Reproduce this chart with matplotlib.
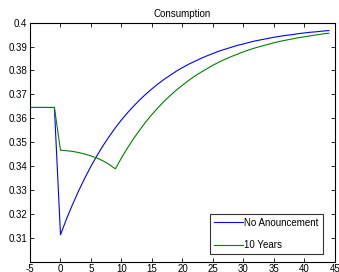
import matplotlib
matplotlib.use("Agg")
import matplotlib.pyplot as plt
import numpy as np

plt.rcParams['font.family'] = ['Liberation Sans', 'DejaVu Sans']

t = list(range(-5, 45))
no_announcement = [0.3645, 0.3645, 0.3645, 0.3645, 0.3645,
                   0.3112, 0.3179, 0.3240, 0.3297, 0.3350, 0.3399, 0.3444, 0.3486, 0.3524, 0.3560,
                   0.3593, 0.3623, 0.3651, 0.3677, 0.3701, 0.3723, 0.3744, 0.3763, 0.3780, 0.3797,
                   0.3812, 0.3826, 0.3838, 0.3850, 0.3861, 0.3871, 0.3881, 0.3889, 0.3897, 0.3905,
                   0.3911, 0.3918, 0.3924, 0.3929, 0.3934, 0.3939, 0.3943, 0.3947, 0.3950, 0.3954,
                   0.3957, 0.3960, 0.3962, 0.3965, 0.3967]
ten_years = [0.3645, 0.3645, 0.3645, 0.3645, 0.3645,
             0.3466, 0.3464, 0.3461, 0.3456, 0.3450, 0.3442, 0.3433, 0.3421, 0.3406, 0.3388,
             0.3434, 0.3476, 0.3515, 0.3551, 0.3585, 0.3616, 0.3644, 0.3671, 0.3695, 0.3718,
             0.3738, 0.3758, 0.3776, 0.3792, 0.3807, 0.3822, 0.3835, 0.3847, 0.3858, 0.3868,
             0.3878, 0.3887, 0.3895, 0.3902, 0.3909, 0.3916, 0.3922, 0.3927, 0.3932, 0.3937,
             0.3941, 0.3945, 0.3949, 0.3953, 0.3956]
labels = ["No Anouncement", "10 Years"]
title = "Consumption"
xticks = [-5, 0, 5, 10, 15, 20, 25, 30, 35, 40, 45]
yticks = [0.31, 0.32, 0.33, 0.34, 0.35, 0.36, 0.37, 0.38, 0.39, 0.40]

fig = plt.figure(figsize=(3.39, 2.72), dpi=100)
ax = fig.add_axes([0.0885, 0.0386, 0.8995, 0.878])
ax.plot(t, no_announcement, color='#0000ff', lw=0.8, label=labels[0])
ax.plot(t, ten_years, color='#008000', lw=0.8, label=labels[1])
ax.set_xlim(-5, 45)
ax.set_ylim(0.30, 0.40)
ax.set_xticks(xticks)
ax.set_xticklabels([str(v) for v in xticks])
ax.set_yticks(yticks)
ax.set_yticklabels(['%g' % v for v in yticks])
ax.tick_params(direction='in', top=True, right=True, labelsize=7, length=3, width=0.6, pad=2)
for s in ax.spines.values():
    s.set_linewidth(0.8)
ax.set_title(title, fontsize=7, pad=4)
leg = ax.legend(loc='lower right', bbox_to_anchor=(0.96, 0.031), fontsize=7,
                frameon=True, fancybox=False, edgecolor='black',
                handlelength=3.0, handletextpad=0.15,
                borderpad=0.4, labelspacing=1.3, borderaxespad=0.0)
leg.get_frame().set_linewidth(0.8)
fig.savefig("out.png", dpi=100)
